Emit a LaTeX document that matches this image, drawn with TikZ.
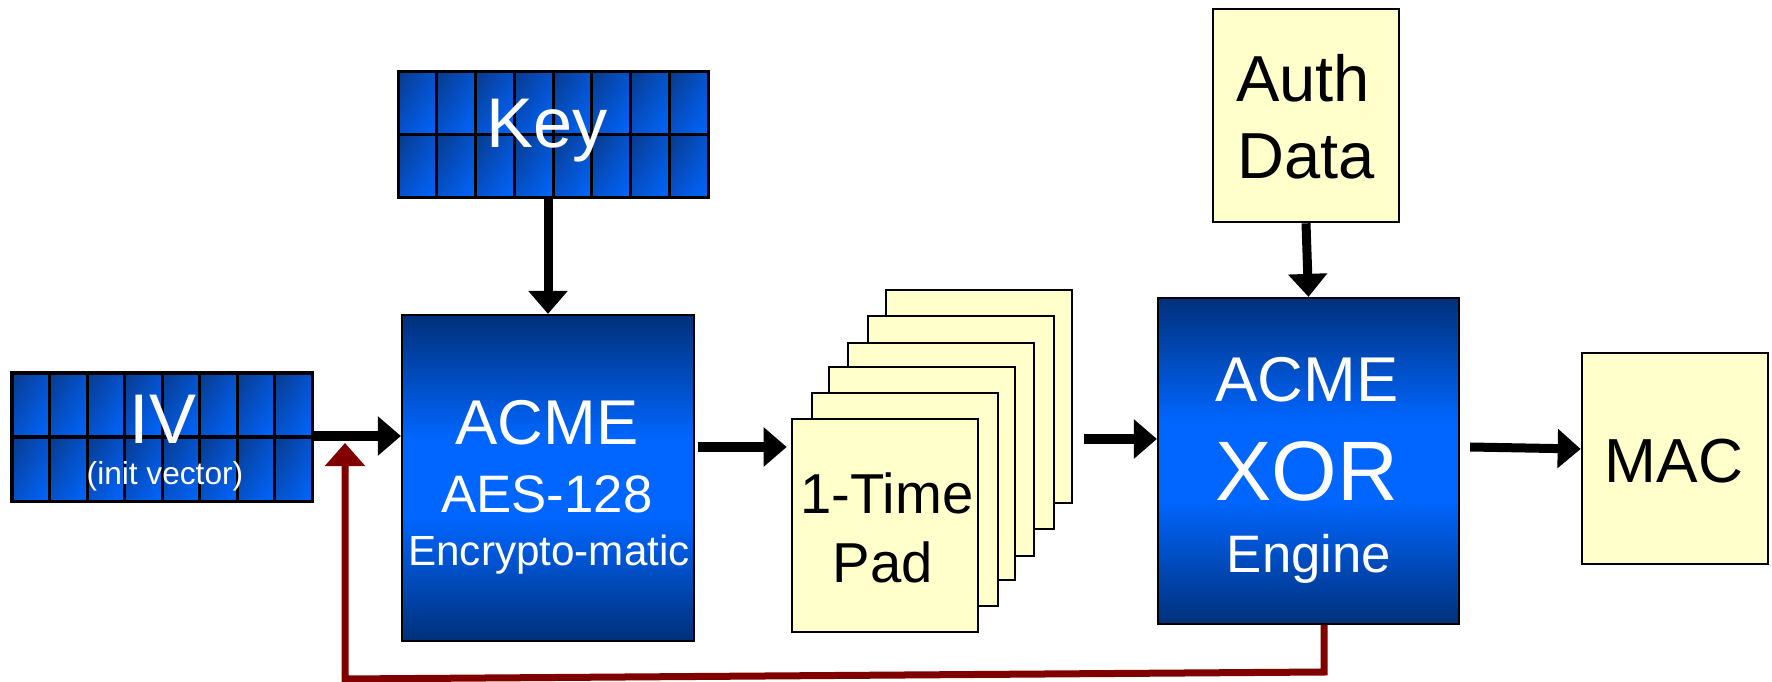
\documentclass[tikz,border=0pt]{standalone}
\usepackage{fontspec}
\setmainfont{Liberation Sans}
\usetikzlibrary{arrows.meta,shadings}
\definecolor{navy}{HTML}{00307A}
\definecolor{bright}{HTML}{0066FF}
\definecolor{celldark}{HTML}{083A8A}
\definecolor{cellmid}{HTML}{0552CC}
\definecolor{padfill}{HTML}{FFFFCC}
\definecolor{fb}{HTML}{800000}
\pgfdeclareverticalshading{boxshade}{100bp}{color(0bp)=(navy); color(25bp)=(navy); color(44bp)=(bright); color(56bp)=(bright); color(75bp)=(navy); color(100bp)=(navy)}
\tikzset{
  bluebox/.style={draw=black, line width=0.02cm, shading=boxshade, inner sep=0pt},
  padbox/.style={draw=black, fill=padfill, line width=0.025cm, minimum width=1.86cm, minimum height=2.13cm, inner sep=0pt},
  cellshade/.style={draw=black, line width=0.03cm, upper left=celldark, upper right=cellmid, lower left=cellmid, lower right=bright},
  gridnode/.style={draw=none, inner sep=0pt},
  arr/.style={line width=0.09cm, -{Triangle[width=0.38cm,length=0.23cm]}},
  fbarr/.style={draw=fb, line width=0.07cm, line join=miter, -{Triangle[width=0.39cm,length=0.23cm]}},
  wt/.style={text=white, anchor=base, inner sep=0pt},
  bt/.style={text=black, anchor=base, inner sep=0pt},
}
\begin{document}
\begin{tikzpicture}[x=0.01cm, y=-0.01cm]
\useasboundingbox (0,0) rectangle (1772,682);
% IV grid
\foreach \i in {0,...,7} \foreach \j in {0,1} {
  \shadedraw[cellshade] ({12+\i*37.5},{373+\j*64}) rectangle ++(37.5,64);
}
\node[gridnode, minimum width=3cm, minimum height=1.28cm] (iv) at (162,437) {};
% Key grid
\foreach \i in {0,...,7} \foreach \j in {0,1} {
  \shadedraw[cellshade] ({398+\i*38.75},{72+\j*63}) rectangle ++(38.75,63);
}
\node[gridnode, minimum width=3.1cm, minimum height=1.26cm] (key) at (553,135) {};
% boxes
\node[bluebox, minimum width=2.92cm, minimum height=3.26cm] (aes) at (548,478) {};
\node[bluebox, minimum width=3.01cm, minimum height=3.26cm] (xor) at (1308.5,461) {};
\node[padbox] (auth) at (1306,115.5) {};
\node[padbox, minimum height=2.11cm] (mac) at (1675,458.5) {};
% pads (back to front)
\node[padbox] (pad6) at (979,396.5) {};
\node[padbox] (pad5) at (961,422.5) {};
\node[padbox] (pad4) at (941,449.5) {};
\node[padbox] (pad3) at (922,473.5) {};
\node[padbox] (pad2) at (905,499.5) {};
\node[padbox] (pad1) at (885,525.5) {};
% texts
\node[wt, font=\fontsize{20}{20}\selectfont] (keyt) at (547,148) {Key};
\node[wt, font=\fontsize{20}{20}\selectfont] (ivt) at (163,443) {IV};
\node[wt, font=\fontsize{9}{9}\selectfont] (ivt2) at (165,484) {(init vector)};
\node[wt, font=\fontsize{18}{18}\selectfont] (aest1) at (547,445) {ACME};
\node[wt, font=\fontsize{15}{15}\selectfont] (aest2) at (547,512) {AES-128};
\node[wt, font=\fontsize{12}{12}\selectfont] (aest3) at (549,565) {Encrypto-matic};
\node[bt, font=\fontsize{16}{16}\selectfont] (padt1) at (887,513) {1-Time};
\node[bt, font=\fontsize{16}{16}\selectfont] (padt2) at (883,582) {Pad};
\node[wt, font=\fontsize{18}{18}\selectfont] (xort1) at (1307,402) {ACME};
\node[wt, font=\fontsize{24}{24}\selectfont] (xort2) at (1307,500) {XOR};
\node[wt, font=\fontsize{15}{15}\selectfont] (xort3) at (1309,572) {Engine};
\node[bt, font=\fontsize{18.5}{18.5}\selectfont] (autht1) at (1303,102) {Auth};
\node[bt, font=\fontsize{18.5}{18.5}\selectfont] (autht2) at (1306,179) {Data};
\node[bt, font=\fontsize{17.7}{17.7}\selectfont] (mact) at (1674,482) {MAC};
% connectors
\draw[arr] (iv.east |- 0,436) -- (aes.west |- 0,436);
\draw[arr] (key.south -| aes.north) -- (aes.north);
\draw[arr] ([xshift=0.03cm]aes.east |- 0,447) -- ([xshift=-0.04cm]pad1.west |- 0,447);
\draw[arr] ([xshift=0.11cm]pad6.east |- 0,439) -- (xor.west |- 0,439);
\draw[arr] (auth.south) -- (xor.north);
\draw[arr] ([xshift=0.1cm]xor.east |- 0,447) -- (mac.west |- 0,449);
\coordinate (fbr) at (1324,672);
\coordinate (fbl) at (345,679);
\coordinate (fbtip) at (345,443);
\draw[fbarr] (xor.south -| fbr) -- (fbr) -- (fbl) -- (fbtip);
\end{tikzpicture}
\end{document}
